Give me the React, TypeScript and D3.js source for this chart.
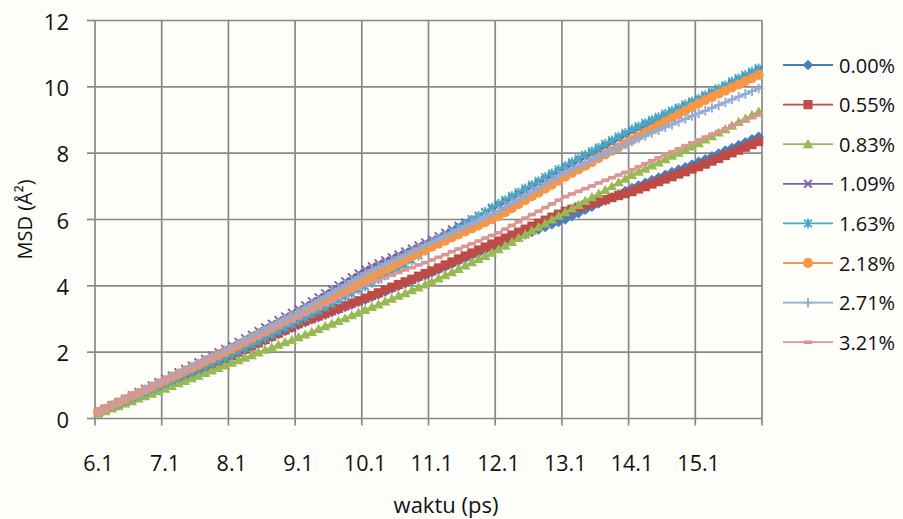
import React from 'react';
import * as d3 from 'd3';

const W = 903;
const H = 519;

// categories: waktu (ps) 6.1 ... 16.0 in 0.1 steps
const categories: string[] = d3.range(100).map((i) => (6.1 + i * 0.1).toFixed(1));
const xTickLabels = ['6.1', '7.1', '8.1', '9.1', '10.1', '11.1', '12.1', '13.1', '14.1', '15.1'];
const yTicks = [0, 2, 4, 6, 8, 10, 12];

const s000 = [
  0.18, 0.26, 0.35, 0.43, 0.52, 0.60, 0.69, 0.77, 0.85, 0.94,
  1.02, 1.10, 1.19, 1.27, 1.36, 1.44, 1.53, 1.62, 1.70, 1.79,
  1.88, 1.97, 2.06, 2.16, 2.25, 2.35, 2.45, 2.54, 2.64, 2.73,
  2.82, 2.90, 2.98, 3.05, 3.13, 3.20, 3.28, 3.36, 3.43, 3.51,
  3.58, 3.66, 3.74, 3.82, 3.91, 3.99, 4.07, 4.15, 4.24, 4.32,
  4.40, 4.48, 4.57, 4.65, 4.74, 4.82, 4.91, 4.99, 5.08, 5.16,
  5.25, 5.32, 5.40, 5.47, 5.55, 5.62, 5.70, 5.77, 5.85, 5.92,
  6.00, 6.10, 6.19, 6.29, 6.38, 6.48, 6.57, 6.67, 6.76, 6.86,
  6.95, 7.03, 7.11, 7.19, 7.27, 7.35, 7.43, 7.51, 7.58, 7.66,
  7.74, 7.82, 7.91, 7.99, 8.08, 8.16, 8.25, 8.33, 8.42, 8.50,
];
const s055 = [
  0.18, 0.27, 0.35, 0.44, 0.52, 0.61, 0.69, 0.78, 0.86, 0.95,
  1.03, 1.12, 1.20, 1.29, 1.38, 1.47, 1.55, 1.64, 1.73, 1.81,
  1.90, 2.00, 2.09, 2.19, 2.28, 2.38, 2.48, 2.57, 2.67, 2.76,
  2.86, 2.94, 3.01, 3.09, 3.17, 3.25, 3.32, 3.40, 3.48, 3.55,
  3.63, 3.71, 3.79, 3.88, 3.96, 4.04, 4.12, 4.20, 4.29, 4.37,
  4.45, 4.54, 4.63, 4.72, 4.81, 4.90, 4.99, 5.08, 5.17, 5.26,
  5.35, 5.44, 5.53, 5.62, 5.71, 5.80, 5.89, 5.98, 6.07, 6.16,
  6.25, 6.31, 6.37, 6.43, 6.49, 6.55, 6.60, 6.66, 6.72, 6.78,
  6.84, 6.92, 6.99, 7.07, 7.14, 7.22, 7.29, 7.37, 7.44, 7.52,
  7.59, 7.67, 7.76, 7.84, 7.93, 8.01, 8.09, 8.18, 8.26, 8.35,
];
const s083 = [
  0.15, 0.22, 0.30, 0.37, 0.45, 0.52, 0.60, 0.67, 0.75, 0.82,
  0.90, 0.98, 1.06, 1.13, 1.21, 1.29, 1.37, 1.45, 1.52, 1.60,
  1.68, 1.76, 1.83, 1.91, 1.99, 2.07, 2.14, 2.22, 2.30, 2.37,
  2.45, 2.53, 2.61, 2.70, 2.78, 2.86, 2.94, 3.02, 3.11, 3.19,
  3.27, 3.36, 3.44, 3.53, 3.61, 3.70, 3.78, 3.87, 3.95, 4.04,
  4.12, 4.22, 4.32, 4.41, 4.51, 4.61, 4.71, 4.81, 4.90, 5.00,
  5.10, 5.21, 5.32, 5.44, 5.55, 5.66, 5.77, 5.88, 6.00, 6.11,
  6.22, 6.33, 6.44, 6.56, 6.67, 6.78, 6.89, 7.00, 7.12, 7.23,
  7.34, 7.44, 7.53, 7.63, 7.72, 7.82, 7.92, 8.01, 8.11, 8.20,
  8.30, 8.41, 8.51, 8.62, 8.72, 8.83, 8.94, 9.04, 9.15, 9.25,
];
const s109 = [
  0.20, 0.30, 0.40, 0.50, 0.60, 0.70, 0.80, 0.90, 1.00, 1.10,
  1.20, 1.30, 1.40, 1.50, 1.60, 1.70, 1.80, 1.90, 2.00, 2.10,
  2.20, 2.31, 2.42, 2.53, 2.64, 2.75, 2.86, 2.97, 3.08, 3.19,
  3.30, 3.42, 3.54, 3.66, 3.78, 3.90, 4.02, 4.14, 4.26, 4.38,
  4.50, 4.59, 4.68, 4.77, 4.86, 4.95, 5.04, 5.13, 5.22, 5.31,
  5.40, 5.50, 5.60, 5.71, 5.81, 5.91, 6.01, 6.11, 6.22, 6.32,
  6.42, 6.53, 6.65, 6.76, 6.87, 6.99, 7.10, 7.21, 7.32, 7.44,
  7.55, 7.66, 7.77, 7.88, 7.99, 8.10, 8.21, 8.32, 8.43, 8.54,
  8.65, 8.75, 8.84, 8.94, 9.03, 9.13, 9.22, 9.32, 9.41, 9.51,
  9.60, 9.70, 9.80, 9.90, 10.00, 10.10, 10.20, 10.30, 10.40, 10.50,
];
const s163 = [
  0.20, 0.28, 0.37, 0.45, 0.54, 0.62, 0.71, 0.79, 0.88, 0.96,
  1.05, 1.14, 1.22, 1.31, 1.40, 1.49, 1.57, 1.66, 1.75, 1.83,
  1.92, 2.02, 2.12, 2.23, 2.33, 2.43, 2.53, 2.63, 2.74, 2.84,
  2.94, 3.04, 3.15, 3.25, 3.36, 3.46, 3.56, 3.67, 3.77, 3.88,
  3.98, 4.09, 4.20, 4.31, 4.41, 4.52, 4.63, 4.77, 4.91, 5.06,
  5.22, 5.37, 5.51, 5.63, 5.75, 5.87, 5.99, 6.11, 6.23, 6.36,
  6.48, 6.59, 6.71, 6.82, 6.94, 7.05, 7.16, 7.28, 7.39, 7.51,
  7.62, 7.73, 7.84, 7.95, 8.06, 8.17, 8.28, 8.39, 8.50, 8.61,
  8.72, 8.81, 8.91, 9.00, 9.09, 9.19, 9.28, 9.37, 9.47, 9.56,
  9.65, 9.75, 9.85, 9.95, 10.05, 10.16, 10.26, 10.36, 10.46, 10.56,
];
const s218 = [
  0.20, 0.29, 0.39, 0.48, 0.58, 0.67, 0.76, 0.86, 0.95, 1.05,
  1.14, 1.24, 1.33, 1.43, 1.52, 1.62, 1.72, 1.81, 1.91, 2.00,
  2.10, 2.20, 2.31, 2.41, 2.52, 2.62, 2.72, 2.83, 2.93, 3.04,
  3.14, 3.25, 3.35, 3.46, 3.56, 3.67, 3.78, 3.88, 3.99, 4.09,
  4.20, 4.30, 4.40, 4.49, 4.59, 4.69, 4.79, 4.89, 4.98, 5.08,
  5.18, 5.27, 5.36, 5.46, 5.55, 5.64, 5.73, 5.82, 5.92, 6.01,
  6.10, 6.22, 6.34, 6.46, 6.58, 6.70, 6.81, 6.93, 7.05, 7.17,
  7.29, 7.40, 7.51, 7.62, 7.73, 7.85, 7.96, 8.07, 8.18, 8.29,
  8.40, 8.51, 8.62, 8.73, 8.84, 8.95, 9.06, 9.17, 9.28, 9.39,
  9.50, 9.60, 9.69, 9.79, 9.88, 9.98, 10.07, 10.17, 10.26, 10.36,
];
const s271 = [
  0.20, 0.30, 0.39, 0.49, 0.59, 0.69, 0.78, 0.88, 0.98, 1.07,
  1.17, 1.27, 1.37, 1.46, 1.56, 1.66, 1.76, 1.86, 1.95, 2.05,
  2.15, 2.26, 2.36, 2.47, 2.58, 2.69, 2.79, 2.90, 3.01, 3.11,
  3.22, 3.34, 3.45, 3.57, 3.68, 3.80, 3.92, 4.03, 4.15, 4.26,
  4.38, 4.48, 4.57, 4.67, 4.76, 4.86, 4.95, 5.05, 5.14, 5.24,
  5.33, 5.42, 5.52, 5.61, 5.70, 5.80, 5.89, 5.98, 6.07, 6.17,
  6.26, 6.38, 6.50, 6.61, 6.73, 6.85, 6.97, 7.09, 7.20, 7.32,
  7.44, 7.53, 7.62, 7.71, 7.80, 7.90, 7.99, 8.08, 8.17, 8.26,
  8.35, 8.44, 8.52, 8.61, 8.69, 8.78, 8.86, 8.95, 9.03, 9.12,
  9.20, 9.28, 9.37, 9.45, 9.53, 9.62, 9.70, 9.78, 9.87, 9.95,
];
const s321 = [
  0.20, 0.29, 0.38, 0.48, 0.57, 0.66, 0.75, 0.84, 0.94, 1.03,
  1.12, 1.22, 1.31, 1.41, 1.50, 1.60, 1.70, 1.79, 1.89, 1.98,
  2.08, 2.18, 2.27, 2.37, 2.46, 2.56, 2.66, 2.75, 2.85, 2.94,
  3.04, 3.14, 3.24, 3.33, 3.43, 3.53, 3.63, 3.73, 3.82, 3.92,
  4.02, 4.10, 4.17, 4.25, 4.32, 4.40, 4.48, 4.55, 4.63, 4.70,
  4.78, 4.86, 4.94, 5.03, 5.11, 5.19, 5.27, 5.35, 5.44, 5.52,
  5.60, 5.71, 5.82, 5.93, 6.04, 6.15, 6.25, 6.36, 6.47, 6.58,
  6.69, 6.77, 6.85, 6.93, 7.01, 7.10, 7.18, 7.26, 7.34, 7.42,
  7.50, 7.59, 7.68, 7.77, 7.86, 7.95, 8.04, 8.13, 8.22, 8.31,
  8.40, 8.48, 8.57, 8.65, 8.73, 8.82, 8.90, 8.98, 9.07, 9.15,
];

const seriesNames = ['0.00%', '0.55%', '0.83%', '1.09%', '1.63%', '2.18%', '2.71%', '3.21%'];
const seriesValues = [s000, s055, s083, s109, s163, s218, s271, s321];
const seriesColors = ['#4a7ebb', '#be4b48', '#98b954', '#7d60a0', '#46aac5', '#f79646', '#92acd6', '#d99694'];
const seriesMarkers = ['diamond', 'square', 'triangle', 'x', 'star', 'circle', 'plus', 'dash'];

const FONT = "'Open Sans', 'Liberation Sans', sans-serif";
const TEXT = '#111111';

function Marker({ type, x, y, color }: { type: string; x: number; y: number; color: string }) {
  switch (type) {
    case 'diamond':
      return <path d={`M${x},${y - 5.2}L${x + 5.2},${y}L${x},${y + 5.2}L${x - 5.2},${y}Z`} fill={color} />;
    case 'square':
      return <rect x={x - 4.6} y={y - 4.6} width={9.2} height={9.2} fill={color} />;
    case 'triangle':
      return <path d={`M${x},${y - 5.2}L${x + 5.2},${y + 4}L${x - 5.2},${y + 4}Z`} fill={color} />;
    case 'x':
      return (
        <path d={`M${x - 3.8},${y - 3.8}L${x + 3.8},${y + 3.8}M${x - 3.8},${y + 3.8}L${x + 3.8},${y - 3.8}`} stroke={color} strokeWidth={1.8} fill="none" />
      );
    case 'star':
      return (
        <path d={`M${x - 3.8},${y - 3.8}L${x + 3.8},${y + 3.8}M${x - 3.8},${y + 3.8}L${x + 3.8},${y - 3.8}M${x},${y - 4.8}L${x},${y + 4.8}`} stroke={color} strokeWidth={1.8} fill="none" />
      );
    case 'circle':
      return <circle cx={x} cy={y} r={5} fill={color} />;
    case 'plus':
      return <path d={`M${x - 4.8},${y}L${x + 4.8},${y}M${x},${y - 4.8}L${x},${y + 4.8}`} stroke={color} strokeWidth={1.9} fill="none" />;
    case 'dash':
      return <rect x={x - 4} y={y - 1.8} width={8} height={3.6} fill={color} />;
    default:
      return null;
  }
}

export default function App() {
  const left = 95;
  const right = 762;
  const top = 20.5;
  const bottom = 418.5;

  const x = d3.scaleBand<string>().domain(categories).range([left, right]).paddingInner(0).paddingOuter(0);
  const bw = x.bandwidth();
  const cx = (c: string) => (x(c) as number) + bw / 2;
  const y = d3.scaleLinear().domain([0, 12]).range([bottom, top]);

  const tickCats = categories.filter((_, i) => i % 10 === 0);
  const tickXs = [...tickCats.map((c) => x(c) as number), right];

  const line = d3
    .line<number>()
    .x((_, i) => cx(categories[i]))
    .y((v) => y(v));

  const gridColor = '#888888';

  return (
    <svg width={W} height={H} style={{ position: 'absolute', left: 0, top: 0, fontFamily: FONT }}>
      <rect x={0} y={0} width={W} height={H} fill="#fdfdf9" />

      {yTicks.map((t) => (
        <line key={'hg' + t} x1={left} x2={right} y1={y(t)} y2={y(t)} stroke={gridColor} strokeWidth={1.7} />
      ))}
      {tickXs.map((tx, i) => (
        <line key={'vg' + i} x1={tx} x2={tx} y1={top} y2={bottom} stroke={gridColor} strokeWidth={1.7} />
      ))}
      {yTicks.map((t) => (
        <line key={'yt' + t} x1={left - 8} x2={left} y1={y(t)} y2={y(t)} stroke={gridColor} strokeWidth={1.7} />
      ))}
      {tickXs.map((tx, i) => (
        <line key={'xt' + i} x1={tx} x2={tx} y1={bottom} y2={bottom + 7} stroke={gridColor} strokeWidth={1.7} />
      ))}

      {yTicks.map((t) => (
        <text key={'yl' + t} x={69} y={y(t)} textAnchor="end" dominantBaseline="central" fontSize={22} fill={TEXT}>
          {t}
        </text>
      ))}
      {tickCats.map((c, i) => (
        <text key={'xl' + c} x={cx(c)} y={462} textAnchor="middle" dominantBaseline="central" fontSize={21.5} fill={TEXT}>
          {xTickLabels[i]}
        </text>
      ))}

      <text x={446} y={504} textAnchor="middle" dominantBaseline="central" fontSize={22} fill={TEXT}>
        waktu (ps)
      </text>
      <text transform={`translate(24,${(top + bottom) / 2}) rotate(-90)`} textAnchor="middle" dominantBaseline="central" fontSize={20} fill={TEXT}>
        MSD (Å²)
      </text>

      {seriesValues.map((vals, si) => (
        <g key={'s' + si}>
          <path d={line(vals) || ''} fill="none" stroke={seriesColors[si]} strokeWidth={2.2} />
          {vals.map((v, i) => (
            <Marker key={i} type={seriesMarkers[si]} x={cx(categories[i])} y={y(v)} color={seriesColors[si]} />
          ))}
        </g>
      ))}

      {seriesNames.map((name, i) => {
        const ly = 65 + i * 39.6;
        return (
          <g key={'lg' + i}>
            <line x1={783} x2={833} y1={ly} y2={ly} stroke={seriesColors[i]} strokeWidth={1.8} />
            <Marker type={seriesMarkers[i]} x={808} y={ly} color={seriesColors[i]} />
            <text x={839} y={ly} dominantBaseline="central" fontSize={20} fill={TEXT}>
              {name}
            </text>
          </g>
        );
      })}
    </svg>
  );
}
